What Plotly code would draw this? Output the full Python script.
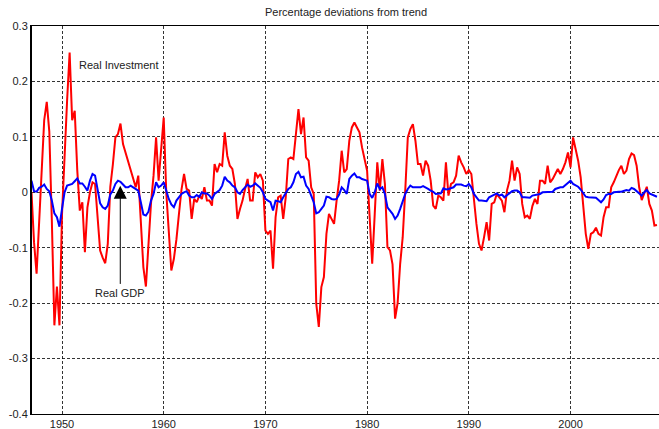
import plotly.graph_objects as go

# Quarterly HP-filtered cyclical components, 1947Q1 onward (fraction of trend)
start_year = 1947

investment = [
    0.000, -0.090, -0.147, -0.060,   # 1947
    0.040, 0.130, 0.163, 0.110,      # 1948
    -0.050, -0.240, -0.170, -0.240,  # 1949
    -0.040, 0.075, 0.165, 0.252,     # 1950
    0.130, 0.147, 0.040, -0.033,     # 1951
    -0.018, -0.108, -0.027, 0.000,   # 1952
    0.018, 0.015, -0.040, -0.105,    # 1953
    -0.118, -0.128, -0.093, 0.010,   # 1954
    0.050, 0.099, 0.105, 0.124,      # 1955
    0.087, 0.072, 0.058, 0.042,      # 1956
    0.025, 0.009, 0.030, -0.045,     # 1957
    -0.135, -0.170, -0.087, -0.020,  # 1958
    0.030, 0.099, 0.021, 0.075,      # 1959
    0.135, 0.000, -0.080, -0.141,    # 1960
    -0.120, -0.085, -0.039, 0.005,   # 1961
    0.033, 0.006, 0.003, -0.048,     # 1962
    -0.012, -0.018, -0.006, -0.012,  # 1963
    0.009, -0.015, -0.015, -0.024,   # 1964
    0.051, 0.036, 0.051, 0.048,      # 1965
    0.108, 0.066, 0.048, 0.042,      # 1966
    0.015, -0.048, -0.030, -0.015,   # 1967
    0.006, 0.024, -0.015, -0.015,    # 1968
    0.036, 0.027, 0.033, 0.021,      # 1969
    -0.069, -0.075, -0.069, -0.138,  # 1970
    -0.045, -0.009, -0.006, -0.048,  # 1971
    -0.009, 0.060, 0.063, 0.060,     # 1972
    0.105, 0.150, 0.105, 0.135,      # 1973
    0.063, 0.057, 0.009, -0.003,     # 1974
    -0.201, -0.243, -0.171, -0.153,  # 1975
    -0.075, -0.039, -0.048, -0.057,  # 1976
    -0.015, 0.021, 0.075, 0.036,     # 1977
    0.042, 0.093, 0.117, 0.126,      # 1978
    0.117, 0.108, 0.081, 0.057,      # 1979
    0.039, -0.045, -0.129, -0.039,   # 1980
    0.054, 0.003, 0.060, 0.015,      # 1981
    -0.099, -0.105, -0.130, -0.228,  # 1982
    -0.200, -0.129, -0.081, 0.003,   # 1983
    0.099, 0.114, 0.123, 0.093,      # 1984
    0.051, 0.051, 0.030, 0.057,      # 1985
    0.048, 0.021, -0.024, -0.030,    # 1986
    -0.006, -0.009, -0.015, 0.054,   # 1987
    -0.006, 0.015, 0.018, 0.030,     # 1988
    0.066, 0.054, 0.045, 0.033,      # 1989
    0.040, 0.033, -0.015, -0.057,    # 1990
    -0.093, -0.105, -0.081, -0.054,  # 1991
    -0.087, -0.021, -0.018, -0.003,  # 1992
    -0.009, -0.015, -0.036, 0.003,   # 1993
    0.021, 0.057, 0.021, 0.045,      # 1994
    0.033, -0.021, -0.045, -0.042,   # 1995
    -0.048, -0.025, -0.012, -0.021,  # 1996
    0.021, 0.021, 0.015, 0.048,      # 1997
    0.018, 0.024, 0.033, 0.042,      # 1998
    0.033, 0.042, 0.054, 0.072,      # 1999
    0.045, 0.099, 0.078, 0.057,      # 2000
    0.027, -0.021, -0.075, -0.102,   # 2001
    -0.075, -0.072, -0.064, -0.075,  # 2002
    -0.078, -0.045, -0.027, -0.027,  # 2003
    0.009, 0.018, 0.030, 0.040,      # 2004
    0.048, 0.033, 0.039, 0.060,      # 2005
    0.070, 0.067, 0.048, 0.009,      # 2006
    -0.014, 0.000, 0.010, -0.021,    # 2007
    -0.033, -0.060, -0.059,          # 2008
]

gdp = [
    0.021, 0.002, 0.001, 0.008,      # 1947
    0.010, 0.014, 0.006, 0.002,      # 1948
    -0.015, -0.038, -0.045, -0.062,  # 1949
    -0.030, 0.000, 0.012, 0.014,     # 1950
    0.015, 0.020, 0.025, 0.016,      # 1951
    0.016, 0.010, 0.003, 0.021,      # 1952
    0.033, 0.030, 0.008, -0.020,     # 1953
    -0.027, -0.030, -0.024, -0.004,  # 1954
    0.003, 0.015, 0.021, 0.019,      # 1955
    0.014, 0.009, 0.009, 0.012,      # 1956
    0.009, 0.006, 0.003, -0.018,     # 1957
    -0.040, -0.042, -0.035, -0.015,  # 1958
    -0.003, 0.018, 0.009, 0.012,     # 1959
    0.018, 0.003, -0.012, -0.022,    # 1960
    -0.027, -0.015, -0.009, -0.003,  # 1961
    0.000, 0.002, -0.006, -0.009,    # 1962
    -0.009, -0.005, -0.008, 0.000,   # 1963
    -0.002, -0.002, -0.006, -0.012,  # 1964
    -0.003, 0.000, 0.004, 0.012,     # 1965
    0.028, 0.021, 0.018, 0.012,      # 1966
    0.009, 0.000, -0.003, 0.004,     # 1967
    0.009, 0.014, 0.010, 0.012,      # 1968
    0.016, 0.012, 0.008, 0.000,      # 1969
    -0.012, -0.015, -0.018, -0.033,  # 1970
    -0.015, -0.016, -0.018, -0.009,  # 1971
    0.000, 0.006, 0.009, 0.018,      # 1972
    0.033, 0.037, 0.027, 0.028,      # 1973
    0.012, 0.006, -0.006, -0.018,    # 1974
    -0.038, -0.036, -0.030, -0.024,  # 1975
    -0.008, -0.009, -0.012, -0.013,  # 1976
    -0.012, -0.004, 0.009, 0.004,    # 1977
    -0.003, 0.024, 0.030, 0.034,     # 1978
    0.027, 0.027, 0.024, 0.022,      # 1979
    0.021, -0.003, -0.010, 0.000,    # 1980
    0.016, 0.006, 0.009, -0.003,     # 1981
    -0.027, -0.033, -0.039, -0.048,  # 1982
    -0.042, -0.030, -0.015, -0.003,  # 1983
    0.006, 0.012, 0.009, 0.009,      # 1984
    0.009, 0.009, 0.011, 0.009,      # 1985
    0.006, 0.003, 0.001, -0.003,     # 1986
    -0.003, -0.002, 0.007, 0.005,    # 1987
    0.006, 0.007, 0.009, 0.014,      # 1988
    0.014, 0.014, 0.012, 0.011,      # 1989
    0.015, 0.009, -0.003, -0.010,    # 1990
    -0.015, -0.015, -0.016, -0.016,  # 1991
    -0.009, -0.007, -0.005, -0.002,  # 1992
    -0.006, -0.004, -0.009, -0.005,  # 1993
    -0.002, 0.002, 0.003, 0.003,     # 1994
    0.000, -0.009, -0.009, -0.009,   # 1995
    -0.010, -0.006, -0.005, -0.004,  # 1996
    -0.003, 0.000, 0.000, 0.000,     # 1997
    0.001, 0.001, 0.006, 0.008,      # 1998
    0.009, 0.009, 0.013, 0.017,      # 1999
    0.021, 0.015, 0.013, 0.010,      # 2000
    0.005, -0.002, -0.008, -0.009,   # 2001
    -0.009, -0.010, -0.010, -0.014,  # 2002
    -0.018, -0.013, -0.005, -0.003,  # 2003
    -0.003, 0.000, 0.001, 0.001,     # 2004
    0.001, 0.003, 0.004, 0.003,      # 2005
    0.008, 0.006, 0.002, -0.003,     # 2006
    -0.006, 0.000, 0.004, -0.002,    # 2007
    -0.004, -0.006, -0.008,          # 2008
]

x_ticks = [1950, 1960, 1970, 1980, 1990, 2000]
y_ticks = [-0.4, -0.3, -0.2, -0.1, 0, 0.1, 0.2, 0.3]
y_tick_text = ["-0.4", "-0.3", "-0.2", "-0.1", "0", "0.1", "0.2", "0.3"]

quarters = [start_year + i / 4 for i in range(len(investment))]

FONT = "Arial, Liberation Sans, Helvetica, sans-serif"
TEXT = "#222222"
GRID = "rgba(0,0,0,0.8)"

fig = go.Figure()
fig.add_trace(go.Scatter(x=quarters, y=investment, mode="lines",
                         line=dict(color="#ff0000", width=2), name="Real Investment"))
fig.add_trace(go.Scatter(x=quarters, y=gdp, mode="lines",
                         line=dict(color="#0000ff", width=2), name="Real GDP"))

# Series labels
fig.add_annotation(x=1955.55, y=0.229, xref="x", yref="y", text="Real Investment",
                   showarrow=False, font=dict(family=FONT, size=11, color=TEXT))
fig.add_annotation(x=1955.73, y=0.012, xref="x", yref="y", text="",
                   showarrow=True, axref="x", ayref="y", ax=1955.73, ay=-0.168,
                   arrowhead=2, arrowsize=2.6, arrowwidth=1, arrowcolor="#000000")
fig.add_annotation(x=1955.73, y=-0.181, xref="x", yref="y", text="Real GDP",
                   showarrow=False, font=dict(family=FONT, size=11, color=TEXT))

fig.add_annotation(x=0.5, y=1.036, xref="paper", yref="paper",
                   text="Percentage deviations from trend", showarrow=False,
                   yanchor="middle", font=dict(family=FONT, size=11, color=TEXT))

fig.update_layout(
    width=659, height=429,
    margin=dict(l=32, r=0, t=26, b=15),
    paper_bgcolor="white", plot_bgcolor="white",
    showlegend=False,
    font=dict(family=FONT, size=11, color=TEXT),
)
fig.update_xaxes(
    range=[1947.05, 2008.7], tickvals=x_ticks,
    showgrid=True, gridcolor=GRID, gridwidth=1, griddash="3px,2px",
    showline=True, linecolor="#000000", linewidth=1, mirror=True,
    zeroline=False, ticks="", tickfont=dict(family=FONT, size=11, color=TEXT),
)
fig.update_yaxes(
    range=[-0.4, 0.3], tickvals=y_ticks, ticktext=y_tick_text,
    showgrid=True, gridcolor=GRID, gridwidth=1, griddash="3px,2px",
    showline=True, linecolor="#000000", linewidth=2,
    zeroline=False, ticks="", tickfont=dict(family=FONT, size=11, color=TEXT),
)

fig.write_html("out.html")
